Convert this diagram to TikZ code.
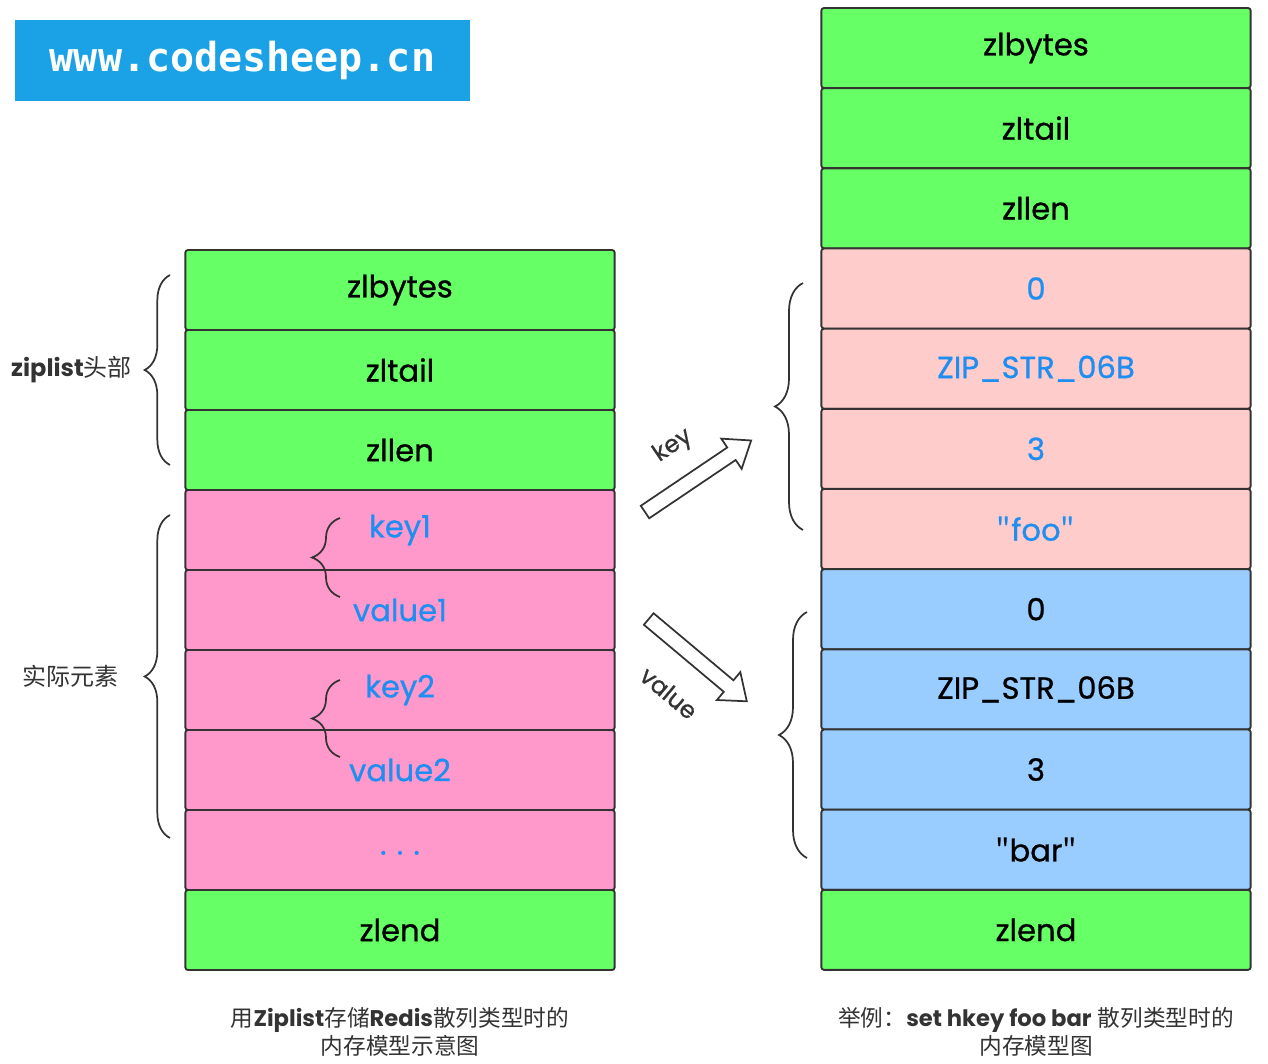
\documentclass[tikz,border=0pt]{standalone}
\usepackage{fontspec}
\setmainfont{Poppins}
\newfontfamily\cellfont{Poppins}[FakeBold=0.8]
\newfontfamily\cjk{Noto Sans CJK SC}
\newfontfamily\sitefont{DejaVu Sans Mono}
\usepackage{tikz}
\usepackage{xcolor}
\usetikzlibrary{positioning,decorations.pathreplacing,shapes.arrows}
\definecolor{zlgreen}{HTML}{66FF66}
\definecolor{zlpink}{HTML}{FF99CC}
\definecolor{zlrose}{HTML}{FFCCCC}
\definecolor{zlsky}{HTML}{99CCFF}
\definecolor{zlblue}{HTML}{1E8FF0}
\definecolor{zlbanner}{HTML}{1BA1E6}
\definecolor{zlink}{HTML}{333333}
\newcommand{\zlquote}[1]{{\cjk "}#1{\cjk "}}
\tikzset{
  cellBox/.style={draw=zlink, line width=1.4pt, rounded corners=2pt, minimum width=322pt, minimum height=60pt, inner sep=0pt, font=\cellfont\fontsize{23}{26}\selectfont},
  braceLine/.style={draw=zlink, line width=1.3pt, decorate, decoration={brace, amplitude=#1}},
  sideLabel/.style={text=zlink, font=\fontsize{18}{20}\selectfont, inner sep=0pt},
  fatArrow/.style={single arrow, draw=zlink, line width=1.3pt, fill=white, minimum height=96pt, inner xsep=0pt, inner ysep=5pt, single arrow head extend=8pt, single arrow tip angle=75},
  arrowLabel/.style={text=zlink, font=\cellfont\fontsize{18}{20}\selectfont, inner sep=1pt},
  capLabel/.style={text=zlink, align=center, font=\fontsize{17}{21}\selectfont}
}

\begin{document}
\begin{tikzpicture}[x=0.75pt, y=-0.75pt]
  \useasboundingbox (0,0) rectangle (1268,1064);
  \node[fill=zlbanner, minimum width=341pt, minimum height=61pt, text=white, font=\sitefont\bfseries\fontsize{30}{31}\selectfont] (site) at (242.5,60.5) {www.codesheep.cn};
  % left: ziplist layout
  \foreach \i/\t/\f/\c in {1/zlbytes/zlgreen/black, 2/zltail/zlgreen/black, 3/zllen/zlgreen/black,
      4/key1/zlpink/zlblue, 5/value1/zlpink/zlblue, 6/key2/zlpink/zlblue, 7/value2/zlpink/zlblue,
      8/{\raisebox{-7pt}{.\,\,.\,\,.}}/zlpink/zlblue, 9/zlend/zlgreen/black}
    \node[cellBox, fill=\f, text=\c] (l\i) at (400,{210+80*\i}) {\t};
  % right: set hkey foo bar
  \foreach \i/\t/\f/\c in {1/zlbytes/zlgreen/black, 2/zltail/zlgreen/black, 3/zllen/zlgreen/black,
      4/0/zlrose/zlblue, 5/ZIP\_STR\_06B/zlrose/zlblue, 6/3/zlrose/zlblue, 7/\zlquote{foo}/zlrose/zlblue,
      8/0/zlsky/black, 9/ZIP\_STR\_06B/zlsky/black, 10/3/zlsky/black, 11/\zlquote{bar}/zlsky/black,
      12/zlend/zlgreen/black}
    \node[cellBox, fill=\f, text=\c] (r\i) at (1036,{-32.17+80.17*\i}) {\t};
  % braces
  \draw[braceLine=19pt] (170,465) -- (170,275) node[midway, left=28pt, sideLabel] (head) {\textbf{ziplist}{\cjk 头部}};
  \draw[braceLine=19pt] (170,838) -- (170,515) node[midway, left=38pt, sideLabel] (elems) {\cjk 实际元素};
  \draw[braceLine=21pt] (340,597) -- (340,518);
  \draw[braceLine=21pt] (340,757) -- (340,680);
  \draw[braceLine=21pt] (803,530) -- (803,283);
  \draw[braceLine=21pt] (807,858) -- (807,612);
  % key / value arrows
  \node[fatArrow, rotate=34] (karrow) at (694,479) {};
  \node[fatArrow, rotate=-40] (varrow) at (694,657) {};
  \node[arrowLabel, rotate=34] (klabel) at (673,446) {key};
  \node[arrowLabel, rotate=-40] (vlabel) at (669,693) {value};
  % captions
  \node[capLabel] (lcap) at (400,1032) {{\cjk 用}\textbf{Ziplist}{\cjk 存储}\textbf{Redis}{\cjk 散列类型时的}\\{\cjk 内存模型示意图}};
  \node[capLabel] (rcap) at (1036,1032) {{\cjk 举例：}\textbf{set hkey foo bar} {\cjk 散列类型时的}\\{\cjk 内存模型图}};
\end{tikzpicture}
\end{document}
